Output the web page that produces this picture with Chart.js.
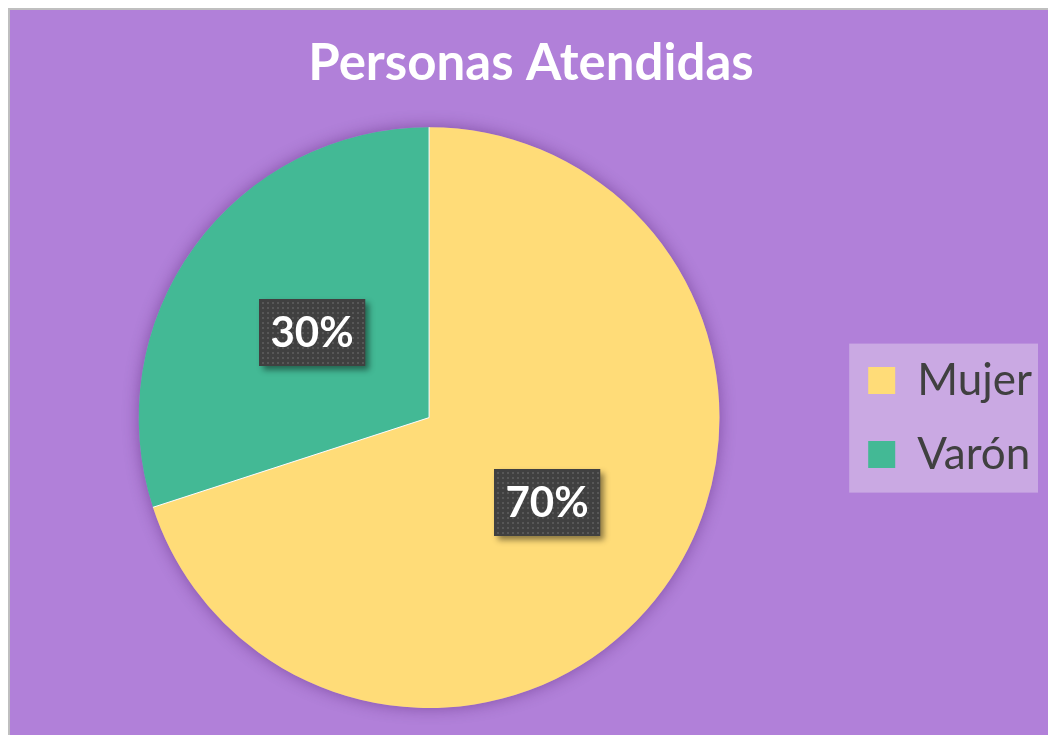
<!DOCTYPE html>
<html lang="es">
<head>
<meta charset="utf-8">
<title>Personas Atendidas</title>
<script src="https://cdn.jsdelivr.net/npm/chart.js@4.4.0/dist/chart.umd.min.js"></script>
<style>
    html, body { margin: 0; padding: 0; background: #ffffff; }
    .chart-wrap { position: relative; width: 1048px; height: 735px; }
</style>
</head>
<body>
<div class="chart-wrap"><canvas id="personasChart"></canvas></div>
<script>
// Chart data
const chartTitle = 'Personas Atendidas';
const categories = ['Mujer', 'Varón'];
const values = [70, 30];
const sliceColors = ['#FFDC78', '#43B995'];

const frameColor = '#B180D9';
const legendBoxColor = '#CAA9E3';

// small dotted texture used behind the percentage labels
function makeDotPattern(ctx) {
    const c = document.createElement('canvas');
    c.width = 5;
    c.height = 5;
    const p = c.getContext('2d');
    p.fillStyle = '#404040';
    p.fillRect(0, 0, 5, 5);
    p.fillStyle = '#575757';
    p.fillRect(2, 2, 2, 2);
    return ctx.createPattern(c, 'repeat');
}

// Frame, legend panel and pie shadow
const backgroundPlugin = {
    id: 'frameBackground',
    beforeDraw(chart) {
        const ctx = chart.ctx;
        ctx.save();
        ctx.fillStyle = '#ffffff';
        ctx.fillRect(0, 0, chart.width, chart.height);
        ctx.fillStyle = '#BFBFBF';
        ctx.fillRect(8, 8, chart.width - 8, chart.height - 8);
        ctx.fillStyle = frameColor;
        ctx.fillRect(10, 10, chart.width - 10, chart.height - 10);

        const boxes = chart.legend && chart.legend.legendHitBoxes;
        if (boxes && boxes.length) {
            const first = boxes[0];
            const last = boxes[boxes.length - 1];
            const left = first.left - 19;
            const top = first.top - 15;
            const bottom = last.top + last.height + 16;
            ctx.fillStyle = legendBoxColor;
            ctx.fillRect(left, top, chart.width - 10 - left, bottom - top);
        }
        ctx.restore();
    },
    beforeDatasetsDraw(chart) {
        const arc = chart.getDatasetMeta(0).data[0];
        if (!arc) return;
        const ctx = chart.ctx;
        ctx.save();
        ctx.shadowColor = 'rgba(70, 20, 100, 0.45)';
        ctx.shadowBlur = 16;
        ctx.fillStyle = frameColor;
        ctx.beginPath();
        ctx.arc(arc.x, arc.y, arc.outerRadius, 0, Math.PI * 2);
        ctx.fill();
        ctx.restore();
    }
};

// White separators between slices and dark percentage labels
const percentLabelPlugin = {
    id: 'percentLabels',
    afterDatasetsDraw(chart) {
        const ctx = chart.ctx;
        const meta = chart.getDatasetMeta(0);
        const total = values.reduce((a, b) => a + b, 0);
        const pattern = makeDotPattern(ctx);

        ctx.save();
        ctx.strokeStyle = '#ffffff';
        ctx.lineWidth = 1;
        meta.data.forEach(arc => {
            ctx.beginPath();
            ctx.moveTo(arc.x, arc.y);
            ctx.lineTo(arc.x + arc.outerRadius * Math.cos(arc.startAngle),
                       arc.y + arc.outerRadius * Math.sin(arc.startAngle));
            ctx.stroke();
        });
        ctx.restore();

        meta.data.forEach((arc, i) => {
            const pos = arc.tooltipPosition();
            const text = Math.round(values[i] / total * 100) + '%';
            ctx.save();
            ctx.font = 'bold 42px Lato';
            const w = ctx.measureText(text).width + 23;
            const h = 67;
            const bx = Math.round(pos.x - w / 2);
            const by = Math.round(pos.y - h / 2);

            ctx.shadowColor = 'rgba(0, 0, 0, 0.45)';
            ctx.shadowBlur = 6;
            ctx.shadowOffsetX = 4;
            ctx.shadowOffsetY = 4;
            ctx.fillStyle = '#404040';
            ctx.fillRect(bx, by, w, h);
            ctx.restore();

            ctx.save();
            ctx.fillStyle = pattern;
            ctx.fillRect(bx, by, w, h);
            ctx.font = 'bold 42px Lato';
            ctx.fillStyle = '#ffffff';
            ctx.textAlign = 'center';
            ctx.textBaseline = 'middle';
            ctx.fillText(text, bx + w / 2, by + h / 2 + 1);
            ctx.restore();
        });
    }
};

const ctx = document.getElementById('personasChart');

new Chart(ctx, {
    type: 'pie',
    data: {
        labels: categories,
        datasets: [{
            data: values,
            backgroundColor: sliceColors,
            borderWidth: 0
        }]
    },
    options: {
        responsive: true,
        maintainAspectRatio: false,
        animation: false,
        layout: {
            padding: { top: 10, left: 20, right: 6, bottom: 27 }
        },
        plugins: {
            title: {
                display: true,
                text: chartTitle,
                color: '#ffffff',
                font: { family: 'Lato', size: 51, weight: 'bold' },
                padding: { top: 23, bottom: 33 }
            },
            legend: {
                position: 'right',
                fullSize: false,
                labels: {
                    color: '#404040',
                    font: { family: 'Lato', size: 44 },
                    boxWidth: 27,
                    boxHeight: 27,
                    padding: 30,
                    generateLabels(chart) {
                        const items = Chart.overrides.pie.plugins.legend.labels.generateLabels(chart);
                        return items.map(item => ({ ...item, lineWidth: 0 }));
                    }
                }
            },
            tooltip: { enabled: false }
        }
    },
    plugins: [backgroundPlugin, percentLabelPlugin]
});
</script>
</body>
</html>
